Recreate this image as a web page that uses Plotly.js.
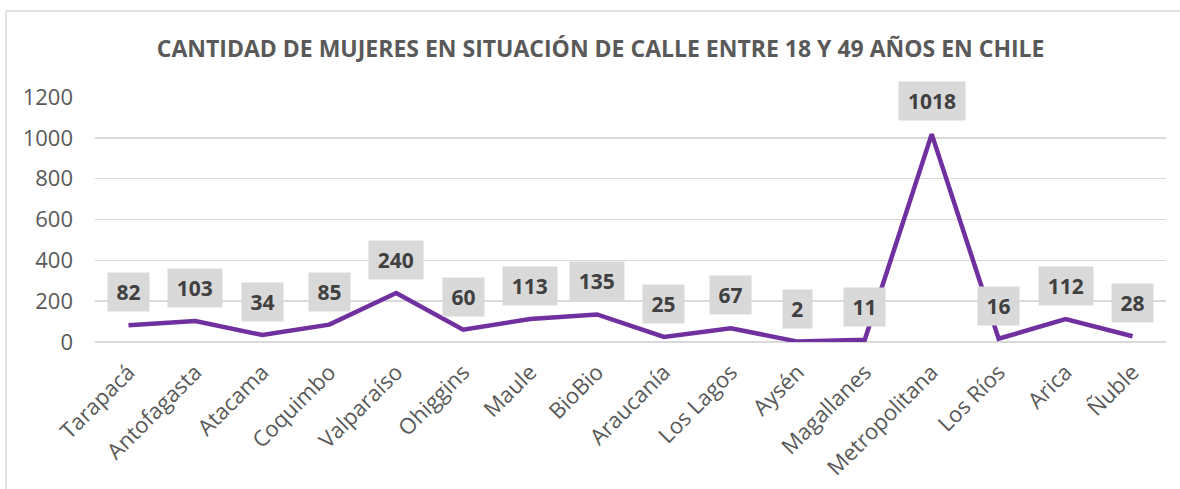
<!DOCTYPE html>
<html>
<head>
<meta charset="utf-8">
<script src="https://cdn.plot.ly/plotly-3.0.1.min.js"></script>
<style>
html,body{margin:0;padding:0;background:#fff;}
#chart{width:1180px;height:489px;}
</style>
</head>
<body>
<div id="chart"></div>
<script>
const regiones = ["Tarapacá","Antofagasta","Atacama","Coquimbo","Valparaíso","Ohiggins","Maule","BioBio","Araucanía","Los Lagos","Aysén","Magallanes","Metropolitana","Los Ríos","Arica","Ñuble"];
const mujeres = [82,103,34,85,240,60,113,135,25,67,2,11,1018,16,112,28];
const yTicks = [0,200,400,600,800,1000,1200];

const L = 95, R = 14, T = 97, B = 147, W = 1180, H = 489;
const pw = W - L - R, ph = H - T - B;
const bx = (6 - L) / pw;
const by = (H - B - 11) / ph;

const annotations = regiones.map((r, i) => ({
  x: r, y: mujeres[i], xref: 'x', yref: 'y',
  text: '<b>' + mujeres[i] + '</b>',
  showarrow: false, yshift: 33,
  bgcolor: '#d9d9d9', borderpad: 5,
  width: String(mujeres[i]).length * 12.5 + 6,
  font: {family: 'Open Sans', size: 21, color: '#404040'}
}));

const trace = {
  type: 'scatter', mode: 'lines',
  x: regiones, y: mujeres,
  line: {color: '#7030a0', width: 4.5},
  hoverinfo: 'skip'
};

const layout = {
  width: W, height: H,
  margin: {l: L, r: R, t: T, b: B},
  paper_bgcolor: '#fff', plot_bgcolor: '#fff',
  showlegend: false,
  title: {
    text: '<b>CANTIDAD DE MUJERES EN SITUACIÓN DE CALLE ENTRE 18 Y 49 AÑOS EN CHILE</b>',
    font: {family: 'Open Sans', size: 23, color: '#595959'},
    x: 0.509, xanchor: 'center', y: 1 - 49 / H, yanchor: 'middle', yref: 'container'
  },
  xaxis: {
    type: 'category', tickangle: -45, range: [-0.5, regiones.length - 0.5],
    showgrid: false, zeroline: false, showline: false, ticks: '',
    tickfont: {family: 'Open Sans', size: 22, color: '#595959'},
    ticklabelstandoff: 12
  },
  yaxis: {
    range: [0, 1200], tickvals: yTicks, ticktext: yTicks.map(String),
    showgrid: true, gridcolor: '#d9d9d9', gridwidth: 1.5,
    zeroline: true, zerolinecolor: '#d9d9d9', zerolinewidth: 1.5,
    showline: false, ticks: '',
    tickfont: {family: 'Open Sans', size: 22, color: '#595959'},
    ticklabelstandoff: 21
  },
  annotations: annotations,
  shapes: [
    {type: 'line', xref: 'paper', yref: 'paper', x0: bx, x1: bx, y0: -2, y1: by, line: {color: '#d9d9d9', width: 1.5}},
    {type: 'line', xref: 'paper', yref: 'paper', x0: bx, x1: 2, y0: by, y1: by, line: {color: '#d9d9d9', width: 1.5}}
  ]
};

Plotly.newPlot('chart', [trace], layout, {displayModeBar: false, staticPlot: true});
</script>
</body>
</html>
